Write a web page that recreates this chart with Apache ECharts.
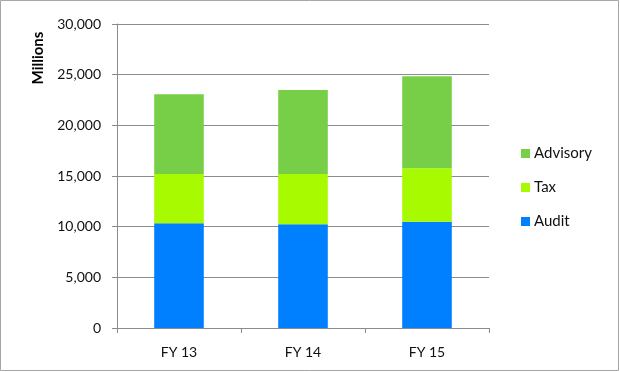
<!DOCTYPE html>
<html><head><meta charset="utf-8">
<script src="https://cdn.jsdelivr.net/npm/echarts@6/dist/echarts.min.js"></script>
<style>html,body{margin:0;padding:0;background:#fff}#c{width:620px;height:372px}</style>
</head><body><div id="c"></div>
<script>
const categories = ['FY 13', 'FY 14', 'FY 15'];
const audit = [10330, 10230, 10490];
const tax = [4870, 4970, 5270];
const advisory = [7860, 8290, 9080];
const yTicks = [0, 5000, 10000, 15000, 20000, 25000, 30000];

const chart = echarts.init(document.getElementById('c'), null, {renderer: 'canvas'});
const font = 'Lato, "Open Sans", sans-serif';
chart.setOption({
  animation: false,
  textStyle: {fontFamily: font},
  graphic: [
    {type: 'rect', shape: {x: 0.5, y: 0.5, width: 618, height: 370}, style: {fill: 'none', stroke: '#a6a6a6', lineWidth: 1}},
    {type: 'text', x: 38, y: 58, rotation: Math.PI / 2,
     style: {text: 'Millions', font: 'bold 15px ' + font, fill: '#000', align: 'center', verticalAlign: 'middle'}}
  ],
  grid: {left: 117, right: 131, top: 24, bottom: 44},
  legend: {
    orient: 'vertical', left: 516, top: 141, itemWidth: 9, itemHeight: 9, itemGap: 19,
    icon: 'rect', data: ['Advisory', 'Tax', 'Audit'],
    textStyle: {fontSize: 15, color: '#111', fontFamily: font, padding: [0, 0, 0, -1]}
  },
  xAxis: {
    type: 'category', data: categories,
    axisLine: {lineStyle: {color: '#8c8c8c'}},
    axisTick: {show: true, length: 5, lineStyle: {color: '#8c8c8c'}},
    axisLabel: {color: '#111', fontSize: 14, margin: 17}
  },
  yAxis: {
    type: 'value', min: 0, max: yTicks[yTicks.length - 1], interval: 5000,
    axisLine: {show: true, lineStyle: {color: '#8c8c8c'}},
    axisTick: {show: true, length: 5, lineStyle: {color: '#8c8c8c'}},
    splitLine: {lineStyle: {color: '#8c8c8c'}},
    axisLabel: {color: '#111', fontSize: 14, margin: 16,
      formatter: v => v.toLocaleString('en-US')}
  },
  series: [
    {name: 'Audit', type: 'bar', stack: 't', data: audit, barWidth: '40%', itemStyle: {color: '#0080ff'}},
    {name: 'Tax', type: 'bar', stack: 't', data: tax, itemStyle: {color: '#a8fa00'}},
    {name: 'Advisory', type: 'bar', stack: 't', data: advisory, itemStyle: {color: '#77cf47'}}
  ]
});
</script></body></html>
